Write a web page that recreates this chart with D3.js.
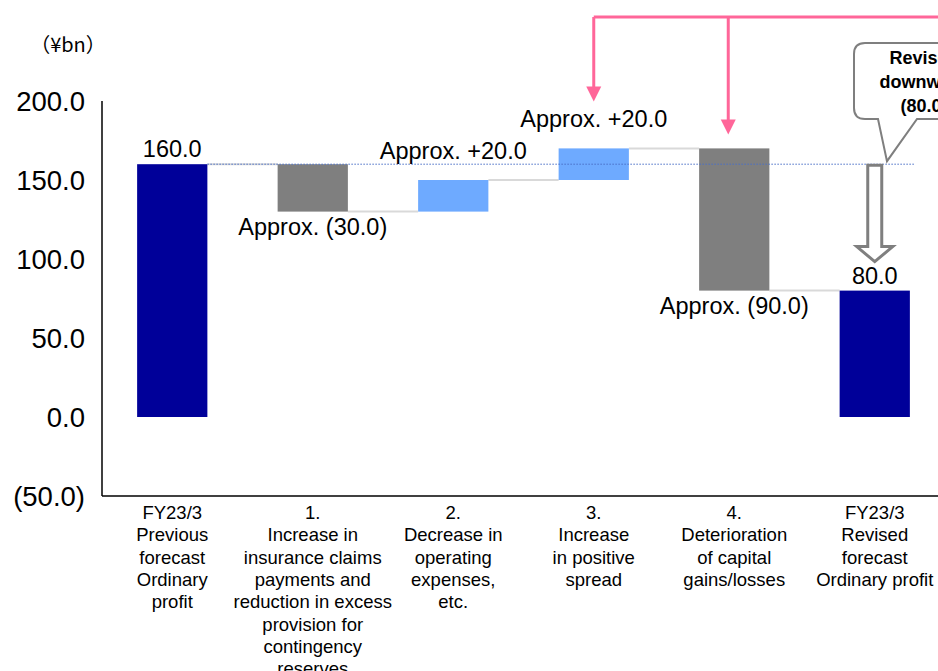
<!DOCTYPE html>
<html>
<head>
<meta charset="utf-8">
<script src="https://cdn.jsdelivr.net/npm/d3@7"></script>
<style>
  body { margin: 0; background: #fff; }
  svg { display: block; font-family: "Liberation Sans", Arial, sans-serif; }
</style>
</head>
<body>
<div id="chart"></div>
<script>
// 카테고리 (줄바꿈 단위)
const categories = [
    ["FY23/3", "Previous", "forecast", "Ordinary", "profit"],
    ["1.", "Increase in", "insurance claims", "payments and", "reduction in excess", "provision for", "contingency", "reserves"],
    ["2.", "Decrease in", "operating", "expenses,", "etc."],
    ["3.", "Increase", "in positive", "spread"],
    ["4.", "Deterioration", "of capital", "gains/losses"],
    ["FY23/3", "Revised", "forecast", "Ordinary profit"]
];
const values = [160, -30, 20, 20, -90, 80];
const kinds = ["total", "delta", "delta", "delta", "delta", "total"];
const valueLabels = ["160.0", "Approx. (30.0)", "Approx. +20.0", "Approx. +20.0", "Approx. (90.0)", "80.0"];
const yTicks = [-50, 0, 50, 100, 150, 200];
const yTickLabels = ["(50.0)", "0.0", "50.0", "100.0", "150.0", "200.0"];
const calloutLines = ["Revised", "downward", "(80.0)"];
const unitLabel = "（¥bn）";

const width = 938, height = 671;
const svg = d3.select("#chart").append("svg")
    .attr("width", width)
    .attr("height", height);

const x = d3.scaleBand()
    .domain(d3.range(categories.length))
    .range([102, 945])
    .paddingInner(0.5)
    .paddingOuter(0.25);

const y = d3.scaleLinear()
    .domain([-50, 200])
    .range([496, 101]);

// 워터폴 구간 계산
let running = 0;
const bars = values.map((v, i) => {
    let lo, hi;
    if (kinds[i] === "total") { lo = 0; hi = v; running = v; }
    else { const s = running; running += v; lo = Math.min(s, running); hi = Math.max(s, running); }
    return { i, v, lo, hi, end: running, kind: kinds[i] };
});

const colorOf = d => d.kind === "total" ? "#000099" : (d.v < 0 ? "#7f7f7f" : "#6eaaff");

// 연결선
const connectors = bars.slice(0, -1).map((d, i) => ({ from: i, to: i + 1, level: d.end }));
svg.append("g")
    .selectAll("line")
    .data(connectors)
    .join("line")
    .attr("x1", d => x(d.from) + x.bandwidth())
    .attr("x2", d => x(d.to))
    .attr("y1", d => y(d.level))
    .attr("y2", d => y(d.level))
    .attr("stroke", "#d9d9d9")
    .attr("stroke-width", 2);

// 막대
svg.append("g")
    .selectAll("rect")
    .data(bars)
    .join("rect")
    .attr("x", d => x(d.i))
    .attr("width", x.bandwidth())
    .attr("y", d => y(d.hi))
    .attr("height", d => y(d.lo) - y(d.hi))
    .attr("fill", colorOf);

// 이전 예측 기준 점선
svg.append("line")
    .attr("x1", x(0) + x.bandwidth())
    .attr("x2", x(5) + x.bandwidth() + 5)
    .attr("y1", y(values[0]))
    .attr("y2", y(values[0]))
    .attr("stroke", "#4a6fc7")
    .attr("stroke-width", 1)
    .attr("stroke-dasharray", "1.5,1.5");

// 축
svg.append("line")
    .attr("x1", 102).attr("x2", 102)
    .attr("y1", y(200)).attr("y2", y(-50))
    .attr("stroke", "#000").attr("stroke-width", 1.5);
svg.append("line")
    .attr("x1", 102).attr("x2", width)
    .attr("y1", y(-50)).attr("y2", y(-50))
    .attr("stroke", "#000").attr("stroke-width", 1.5);

svg.append("g")
    .selectAll("text")
    .data(yTicks)
    .join("text")
    .attr("x", 85)
    .attr("y", d => y(d))
    .attr("dy", "0.36em")
    .attr("text-anchor", "end")
    .style("font-size", "27.5px")
    .attr("fill", "#000")
    .text((d, i) => yTickLabels[i]);

svg.append("text")
    .attr("x", 68)
    .attr("y", 52)
    .attr("text-anchor", "middle")
    .style("font-size", "20px")
    .style("font-family", "'Noto Sans CJK JP', 'Liberation Sans', sans-serif")
    .text(unitLabel);

// 카테고리 라벨
const cat = svg.append("g")
    .selectAll("text")
    .data(categories)
    .join("text")
    .attr("text-anchor", "middle")
    .attr("x", (d, i) => x(i) + x.bandwidth() / 2)
    .attr("y", 519)
    .style("font-size", "18.5px")
    .attr("fill", "#000");
cat.selectAll("tspan")
    .data(d => d)
    .join("tspan")
    .attr("x", function () { return d3.select(this.parentNode).attr("x"); })
    .attr("dy", (d, j) => j === 0 ? 0 : 22.3)
    .text(d => d);

// 값 라벨
svg.append("g")
    .selectAll("text")
    .data(bars)
    .join("text")
    .attr("text-anchor", "middle")
    .attr("x", d => x(d.i) + x.bandwidth() / 2)
    .attr("y", d => {
        if (d.kind === "total") return y(d.hi) - 7;
        if (d.v < 0) return y(d.lo) + 23;
        return y(d.hi) - 21;
    })
    .style("font-size", "23.5px")
    .attr("fill", "#000")
    .text((d, i) => valueLabels[i]);

// 분홍 화살표
const pink = "#ff6699";
const topY = 17;
const arrows = [
    { cx: x(3) + x.bandwidth() / 2, tip: y(bars[3].hi) - 47 },
    { cx: x(4) + x.bandwidth() / 2 - 6, tip: y(bars[4].hi) - 14 }
];
svg.append("line")
    .attr("x1", arrows[0].cx).attr("x2", width)
    .attr("y1", topY).attr("y2", topY)
    .attr("stroke", pink).attr("stroke-width", 3);
arrows.forEach(a => {
    svg.append("line")
        .attr("x1", a.cx).attr("x2", a.cx)
        .attr("y1", topY).attr("y2", a.tip - 12)
        .attr("stroke", pink).attr("stroke-width", 3);
    svg.append("path")
        .attr("d", `M${a.cx - 7.5},${a.tip - 15}L${a.cx + 7.5},${a.tip - 15}L${a.cx},${a.tip}Z`)
        .attr("fill", pink);
});

// 하향 수정 중공 화살표
const ax = x(5) + x.bandwidth() / 2;
const a0 = y(values[0]) + 1, aHead = y(values[5]) - 44, aTip = y(values[5]) - 29;
svg.append("path")
    .attr("d", `M${ax - 7},${a0}L${ax + 7},${a0}L${ax + 7},${aHead}L${ax + 18},${aHead}L${ax},${aTip}L${ax - 18},${aHead}L${ax - 7},${aHead}Z`)
    .attr("fill", "#fff")
    .attr("stroke", "#7f7f7f")
    .attr("stroke-width", 3)
    .attr("stroke-linejoin", "miter");

// 말풍선
const bx = 854, by = 43, bw = 140, bh = 76, r = 11;
const tail = { l: 878, rgt: 917, tx: 887, ty: y(values[0]) - 3 };
svg.append("path")
    .attr("d", `M${bx + r},${by}H${bx + bw - r}Q${bx + bw},${by} ${bx + bw},${by + r}V${by + bh - r}` +
        `Q${bx + bw},${by + bh} ${bx + bw - r},${by + bh}H${tail.rgt}L${tail.tx},${tail.ty}L${tail.l},${by + bh}` +
        `H${bx + r}Q${bx},${by + bh} ${bx},${by + bh - r}V${by + r}Q${bx},${by} ${bx + r},${by}Z`)
    .attr("fill", "#fff")
    .attr("stroke", "#7f7f7f")
    .attr("stroke-width", 2);
svg.append("text")
    .attr("text-anchor", "middle")
    .attr("x", 924)
    .attr("y", 64)
    .style("font-size", "18px")
    .style("font-weight", "bold")
    .selectAll("tspan")
    .data(calloutLines)
    .join("tspan")
    .attr("x", 924)
    .attr("dy", (d, j) => j === 0 ? 0 : 24)
    .text(d => d);
</script>
</body>
</html>
